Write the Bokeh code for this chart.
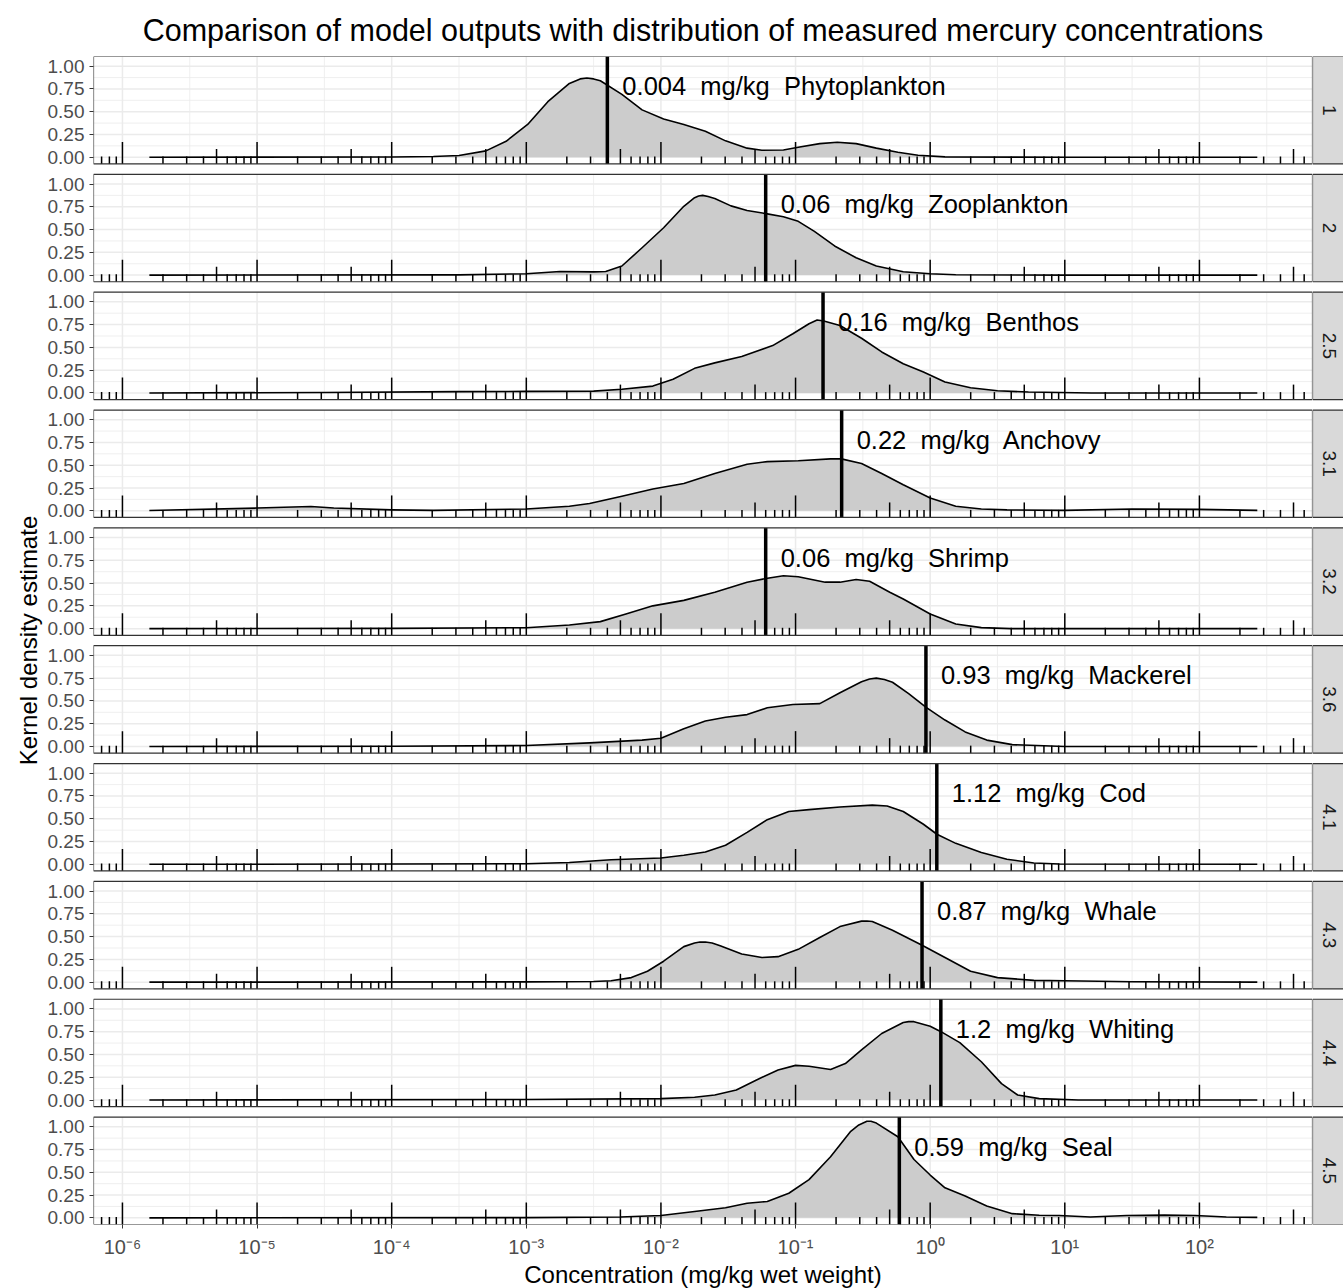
import math
from bokeh.plotting import figure
from bokeh.models import Range1d, FixedTicker
from bokeh.layouts import row
from bokeh.embed import file_html
from bokeh.resources import INLINE
from bokeh.core.properties import value

FONT = "Liberation Sans"

# ---------------- data ----------------
species = ["Phytoplankton", "Zooplankton", "Benthos", "Anchovy", "Shrimp",
           "Mackerel", "Cod", "Whale", "Whiting", "Seal"]
trophic_levels = ["1", "2", "2.5", "3.1", "3.2", "3.6", "4.1", "4.3", "4.4", "4.5"]
model_mgkg = [0.004, 0.06, 0.16, 0.22, 0.06, 0.93, 1.12, 0.87, 1.2, 0.59]
model_labels = ["0.004", "0.06", "0.16", "0.22", "0.06", "0.93", "1.12", "0.87", "1.2", "0.59"]

# kernel density estimates: log10(concentration, mg/kg) and density
phyto_log10 = [-5.8, -4.0, -3.69, -3.5, -3.3, -3.15, -2.99, -2.84, -2.68, -2.60, -2.55, -2.50,
               -2.45, -2.29, -2.14, -1.98, -1.83, -1.67, -1.52, -1.36, -1.25, -1.09, -0.98,
               -0.82, -0.69, -0.55, -0.40, -0.24, -0.09, 0.11, 1.0, 2.43]
phyto_kde = [0.0, 0.003, 0.008, 0.02, 0.07, 0.175, 0.36, 0.61, 0.81, 0.86, 0.87, 0.86,
             0.84, 0.69, 0.52, 0.42, 0.36, 0.285, 0.18, 0.10, 0.077, 0.08, 0.11,
             0.15, 0.165, 0.15, 0.10, 0.055, 0.022, 0.004, 0.0, 0.0]

zoo_log10 = [-5.8, -3.5, -3.0, -2.75, -2.5, -2.41, -2.29, -2.14, -1.98, -1.83, -1.75, -1.72,
             -1.69, -1.65, -1.60, -1.48, -1.36, -1.22, -1.09, -0.98, -0.86, -0.71, -0.55,
             -0.40, -0.20, 0.0, 0.19, 1.0, 2.43]
zoo_kde = [0.0, 0.003, 0.015, 0.04, 0.035, 0.04, 0.10, 0.30, 0.52, 0.755, 0.85, 0.868,
           0.875, 0.862, 0.84, 0.76, 0.71, 0.675, 0.64, 0.59, 0.48, 0.32, 0.19,
           0.10, 0.036, 0.015, 0.004, 0.0, 0.0]

benthos_log10 = [-5.8, -4.5, -3.5, -3.0, -2.5, -2.29, -2.06, -1.91, -1.75, -1.60, -1.40, -1.17,
                 -1.02, -0.90, -0.84, -0.79, -0.67, -0.51, -0.36, -0.20, -0.05, 0.11, 0.30,
                 0.50, 0.73, 1.2, 2.43]
benthos_kde = [0.0, 0.005, 0.015, 0.017, 0.02, 0.04, 0.075, 0.15, 0.27, 0.33, 0.40, 0.52,
               0.65, 0.76, 0.80, 0.79, 0.74, 0.60, 0.45, 0.32, 0.23, 0.12, 0.057,
               0.024, 0.01, 0.0, 0.0]

anchovy_log10 = [-5.8, -5.0, -4.6, -4.43, -4.0, -3.69, -3.0, -2.68, -2.53, -2.29, -2.06, -1.83,
                 -1.60, -1.36, -1.21, -0.98, -0.74, -0.66, -0.51, -0.36, -0.20, 0.0, 0.19,
                 0.38, 0.57, 1.0, 1.5, 2.0, 2.43]
anchovy_kde = [0.004, 0.03, 0.047, 0.03, 0.01, 0.005, 0.02, 0.05, 0.08, 0.16, 0.24, 0.30,
               0.41, 0.51, 0.54, 0.55, 0.57, 0.57, 0.52, 0.41, 0.285, 0.14, 0.05,
               0.02, 0.01, 0.005, 0.02, 0.015, 0.005]

shrimp_log10 = [-5.8, -4.0, -3.0, -2.68, -2.45, -2.26, -2.06, -1.83, -1.60, -1.36, -1.22, -1.09,
                -0.98, -0.78, -0.67, -0.55, -0.45, -0.30, -0.20, 0.0, 0.19, 0.38, 0.6, 2.43]
shrimp_kde = [0.0, 0.003, 0.01, 0.04, 0.077, 0.16, 0.25, 0.31, 0.40, 0.51, 0.55, 0.58,
              0.57, 0.51, 0.51, 0.54, 0.52, 0.40, 0.325, 0.16, 0.05, 0.011, 0.0, 0.0]

mackerel_log10 = [-5.8, -4.0, -3.0, -2.53, -2.14, -2.0, -1.83, -1.67, -1.52, -1.36, -1.21, -1.02,
                  -0.82, -0.67, -0.51, -0.45, -0.40, -0.34, -0.28, -0.16, -0.03, 0.11, 0.26,
                  0.42, 0.61, 1.0, 2.43]
mackerel_kde = [0.0, 0.003, 0.01, 0.04, 0.07, 0.09, 0.195, 0.28, 0.32, 0.35, 0.425, 0.46,
                0.47, 0.59, 0.71, 0.74, 0.75, 0.735, 0.705, 0.58, 0.43, 0.29, 0.16,
                0.07, 0.02, 0.0, 0.0]

cod_log10 = [-5.8, -4.0, -3.0, -2.68, -2.37, -2.0, -1.83, -1.67, -1.52, -1.36, -1.21, -1.05,
             -0.90, -0.67, -0.43, -0.32, -0.20, -0.05, 0.05, 0.19, 0.38, 0.57, 0.77, 0.96, 2.43]
cod_kde = [0.0, 0.003, 0.007, 0.02, 0.05, 0.07, 0.10, 0.135, 0.21, 0.35, 0.49, 0.58,
           0.60, 0.63, 0.65, 0.64, 0.58, 0.44, 0.33, 0.23, 0.13, 0.055, 0.015, 0.004, 0.0]

whale_log10 = [-5.8, -3.0, -2.5, -2.37, -2.22, -2.10, -1.98, -1.83, -1.75, -1.71, -1.67, -1.62,
               -1.56, -1.40, -1.25, -1.13, -0.98, -0.82, -0.67, -0.51, -0.47, -0.43, -0.28,
               -0.06, 0.11, 0.30, 0.50, 0.77, 1.0, 1.5, 2.43]
whale_kde = [0.0, 0.003, 0.008, 0.015, 0.05, 0.12, 0.23, 0.39, 0.43, 0.44, 0.44, 0.43,
             0.40, 0.31, 0.27, 0.28, 0.36, 0.49, 0.61, 0.67, 0.672, 0.665, 0.57,
             0.405, 0.27, 0.12, 0.05, 0.02, 0.015, 0.005, 0.0]

whiting_log10 = [-5.8, -3.0, -2.0, -1.75, -1.60, -1.44, -1.29, -1.13, -1.0, -0.90, -0.74, -0.63,
                 -0.51, -0.36, -0.20, -0.16, -0.12, 0.0, 0.08, 0.22, 0.38, 0.53, 0.65, 0.81,
                 1.1, 2.43]
whiting_kde = [0.0, 0.005, 0.015, 0.03, 0.055, 0.11, 0.22, 0.33, 0.38, 0.37, 0.335, 0.40,
               0.55, 0.73, 0.85, 0.86, 0.86, 0.81, 0.75, 0.63, 0.42, 0.18, 0.055, 0.015,
               0.0, 0.0]

seal_log10 = [-5.8, -3.0, -2.3, -2.0, -1.75, -1.52, -1.36, -1.21, -1.05, -0.90, -0.74, -0.59,
              -0.53, -0.47, -0.44, -0.40, -0.24, -0.12, 0.0, 0.11, 0.26, 0.42, 0.61, 0.81,
              0.96, 1.19, 1.46, 1.74, 1.97, 2.2, 2.43]
seal_kde = [0.0, 0.003, 0.01, 0.025, 0.07, 0.11, 0.16, 0.18, 0.27, 0.42, 0.67, 0.95,
            1.02, 1.06, 1.06, 1.04, 0.89, 0.64, 0.47, 0.33, 0.24, 0.13, 0.046, 0.028,
            0.025, 0.01, 0.025, 0.03, 0.025, 0.01, 0.005]

kde_log10 = [phyto_log10, zoo_log10, benthos_log10, anchovy_log10, shrimp_log10,
             mackerel_log10, cod_log10, whale_log10, whiting_log10, seal_log10]
kde_values = [phyto_kde, zoo_kde, benthos_kde, anchovy_kde, shrimp_kde,
              mackerel_kde, cod_kde, whale_kde, whiting_kde, seal_kde]

x_tick_exponents = [-6, -5, -4, -3, -2, -1, 0, 1, 2]
y_tick_values = [0.0, 0.25, 0.5, 0.75, 1.0]
y_tick_labels = ["0.00", "0.25", "0.50", "0.75", "1.00"]

# ---------------- layout constants ----------------
X_LO, X_HI = 10 ** -6.215, 10 ** 2.84
Y_LO, Y_HI = -0.073, 1.106
PITCH = 1.2935
N = len(species)
FRAME_W, FRAME_H = 1219, 1168
TOP, LEFT, BOTTOM = 55, 93, 60
PX_PER_UNIT = FRAME_H / ((N - 1) * PITCH + Y_HI - Y_LO)
bases = [(N - 1 - i) * PITCH for i in range(N)]

SUP = str.maketrans("-0123456789", "\u207b\u2070\u00b9\u00b2\u00b3\u2074\u2075\u2076\u2077\u2078\u2079")

yr = Range1d(Y_LO, bases[0] + Y_HI)

p = figure(frame_width=FRAME_W, frame_height=FRAME_H, x_axis_type="log",
           x_range=Range1d(X_LO, X_HI), y_range=yr,
           min_border_left=LEFT, min_border_right=0, min_border_top=TOP,
           min_border_bottom=BOTTOM, toolbar_location=None, output_backend="svg",
           background_fill_color="white", border_fill_color="white",
           outline_line_color=None,
           title="Comparison of model outputs with distribution of measured mercury concentrations")
p.xgrid.visible = False
p.ygrid.visible = False

p.title.align = "center"
p.title.text_font = FONT
p.title.text_font_size = "30.5px"
p.title.text_font_style = "normal"
p.title.text_color = "black"
p.title.standoff = 20

# x axis
xt = [float(f"1e{k}") for k in x_tick_exponents]
p.xaxis.ticker = FixedTicker(ticks=xt, minor_ticks=[])
p.xaxis.major_label_overrides = {t: "10" + str(k).translate(SUP) for t, k in zip(xt, x_tick_exponents)}
p.xaxis.axis_label = "Concentration (mg/kg wet weight)"

# y axis
yt, ylab = [], {}
for b in bases:
    for v, lab in zip(y_tick_values, y_tick_labels):
        t = b + v
        yt.append(t)
        ylab[t] = lab
p.yaxis.ticker = FixedTicker(ticks=yt, minor_ticks=[])
p.yaxis.major_label_overrides = ylab
p.yaxis.axis_label = "Kernel density estimate"

for ax in (p.xaxis[0], p.yaxis[0]):
    ax.axis_line_color = None
    ax.major_tick_in = 0
    ax.major_tick_out = 4
    ax.major_tick_line_color = "#333333"
    ax.major_tick_line_width = 1
    ax.minor_tick_line_color = None
    ax.major_label_text_font = FONT
    ax.major_label_text_font_size = "19px"
    ax.major_label_text_color = "#4D4D4D"
    ax.major_label_standoff = 5
    ax.axis_label_text_font = FONT
    ax.axis_label_text_font_size = "24px"
    ax.axis_label_text_font_style = "normal"
    ax.axis_label_text_color = "black"
    ax.axis_label_standoff = 3
p.xaxis[0].major_label_standoff = 7
p.xaxis[0].major_label_text_font_size = "20px"
p.xaxis[0].axis_label_standoff = 0

# grid lines per panel
gx_major = [10.0 ** k for k in range(-6, 3)]
gx_minor = [10.0 ** (k + 0.5) for k in range(-7, 3) if X_LO <= 10.0 ** (k + 0.5) <= X_HI]
gy_major = [0.0, 0.25, 0.5, 0.75, 1.0]
gy_minor = [0.125, 0.375, 0.625, 0.875]

def grid_lines(xs_list, ys_list):
    x0, x1, y0, y1 = [], [], [], []
    for b in bases:
        for g in xs_list:
            x0.append(g); x1.append(g); y0.append(b + Y_LO); y1.append(b + Y_HI)
        for g in ys_list:
            x0.append(X_LO); x1.append(X_HI); y0.append(b + g); y1.append(b + g)
    return x0, y0, x1, y1

x0, y0, x1, y1 = grid_lines(gx_minor, gy_minor)
p.segment(x0, y0, x1, y1, line_color="#EBEBEB", line_width=0.8)
x0, y0, x1, y1 = grid_lines(gx_major, gy_major)
p.segment(x0, y0, x1, y1, line_color="#EBEBEB", line_width=1.5)

# log ticks (annotation)
lt_x, lt_y0, lt_y1 = [], [], []
for b in bases:
    for k in range(-7, 3):
        for m in range(1, 10):
            v = m * 10.0 ** k
            if not (X_LO <= v <= X_HI):
                continue
            L = 22 if m == 1 else (15 if m == 5 else 7.5)
            lt_x.append(v)
            lt_y0.append(b + Y_LO)
            lt_y1.append(b + Y_LO + L / PX_PER_UNIT)

# density curves
for i in range(N):
    b = bases[i]
    xs = [10.0 ** lx for lx in kde_log10[i]]
    ys = [b + d for d in kde_values[i]]
    p.varea(x=xs, y1=[b] * len(xs), y2=ys, fill_color="#CCCCCC")
    p.line(xs, ys, line_color="black", line_width=1.6, line_join="round")

p.segment(lt_x, lt_y0, lt_x, lt_y1, line_color="black", line_width=1.5)

for i in range(N):
    b = bases[i]
    p.segment([model_mgkg[i]], [b + Y_LO], [model_mgkg[i]], [b + Y_HI],
              line_color="black", line_width=3.5)
    p.text([model_mgkg[i]], [b + 0.78],
           text=[f"{model_labels[i]}\u00a0 mg/kg\u00a0 {species[i]}"],
           x_offset=15, text_align="left", text_baseline="middle",
           text_font=value(FONT), text_font_size="25.5px", text_color="black")

# panel borders
p.quad(left=[X_LO] * N, right=[X_HI] * N, bottom=[b + Y_LO for b in bases],
       top=[b + Y_HI for b in bases], fill_color=None, line_color="#333333", line_width=1.2)

# strip figure on the right
s = figure(frame_width=31, frame_height=FRAME_H, x_range=Range1d(0, 1), y_range=yr,
           min_border_left=0, min_border_right=0, min_border_top=TOP, min_border_bottom=BOTTOM,
           toolbar_location=None, output_backend="svg", x_axis_location=None,
           y_axis_location=None, outline_line_color=None,
           background_fill_color="white", border_fill_color="white")
s.xgrid.visible = False
s.ygrid.visible = False
s.quad(left=[0.0] * N, right=[2.0] * N, bottom=[b + Y_LO for b in bases],
       top=[b + Y_HI for b in bases], fill_color="#D9D9D9", line_color="#333333", line_width=1.2)
s.text([0.55] * N, [b + (Y_LO + Y_HI) / 2 for b in bases], text=trophic_levels,
       angle=-math.pi / 2, text_align="center", text_baseline="middle",
       text_font=value(FONT), text_font_size="19px", text_color="#1A1A1A")

layout = row(p, s, spacing=0)
open("out.html", "w").write(file_html(layout, INLINE))
